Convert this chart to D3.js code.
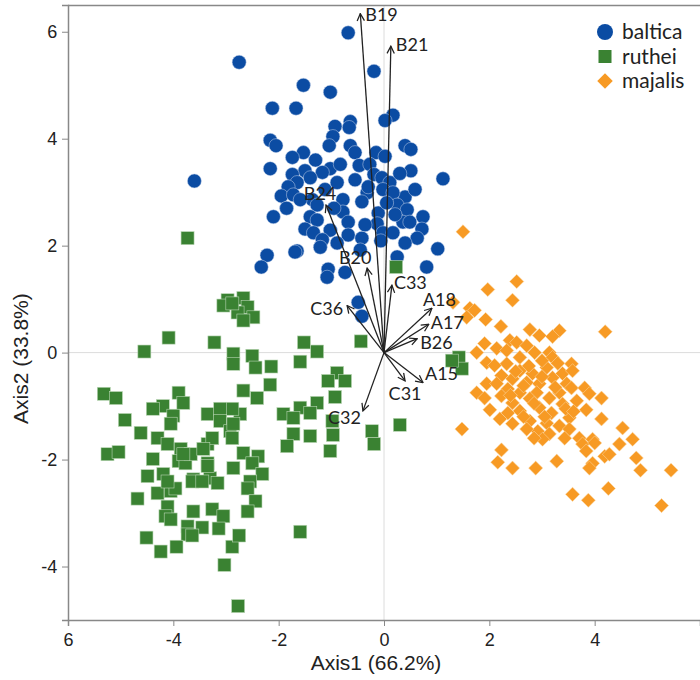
<!DOCTYPE html>
<html>
<head>
<meta charset="utf-8">
<script src="https://cdn.jsdelivr.net/npm/d3@7"></script>
<style>
  body { margin: 0; background: #fff; }
  svg text { fill: #222; }
</style>
</head>
<body>
<div id="chart"></div>
<script>
/* DATA */
// scores: [Axis1, Axis2]
var baltica = [
  [-0.68,5.98],[-2.75,5.43],[-0.19,5.26],[-1.53,5.00],[-1.02,4.87],[-2.12,4.57],[-1.67,4.57],
  [0.17,4.44],[0.02,4.34],[-0.64,4.32],[-0.93,4.23],[-0.66,4.21],[-0.97,4.04],[-2.16,3.97],
  [-2.05,3.87],[-1.04,3.87],[-0.64,3.87],[0.40,3.87],[0.51,3.80],[-1.53,3.74],[-0.55,3.74],
  [-0.15,3.74],[0.02,3.67],[-1.74,3.65],[-2.16,3.44],[-0.47,3.50],[-0.27,3.52],[0.51,3.40],
  [-1.50,3.40],[-1.02,3.44],[-1.17,3.37],[-1.74,3.33],[-0.19,3.33],[-0.04,3.27],[-3.60,3.21],
  [1.12,3.25],[-0.89,3.18],[-1.40,3.27],[-1.65,3.18],[-1.82,3.10],[0.11,3.18],[-0.02,3.05],
  [-1.95,2.93],[-1.72,2.95],[-0.78,2.86],[-0.32,2.99],[-0.42,2.82],[0.40,2.91],[0.17,2.99],
  [-1.36,2.86],[0.25,2.76],[0.44,2.67],[-0.11,2.61],[-0.78,2.63],[-1.27,2.76],[-2.10,2.54],
  [-1.40,2.54],[-1.27,2.48],[-0.68,2.44],[0.36,2.44],[0.49,2.44],[0.74,2.54],[-1.50,2.31],
  [-0.13,2.41],[-1.34,2.24],[-1.02,2.29],[-0.68,2.20],[-0.42,2.14],[-0.02,2.24],[0.17,2.24],
  [0.72,2.31],[-1.17,2.11],[-0.89,2.05],[0.63,2.14],[0.40,2.05],[-0.06,2.09],[-1.21,1.97],
  [-1.65,1.90],[-0.45,1.92],[1.02,1.94],[-2.22,1.82],[-2.33,1.60],[-1.06,1.56],[-0.74,1.50],
  [0.25,1.79],[0.81,1.60],[-1.08,1.41],[-1.69,1.88],[-0.49,0.94],[-0.42,0.68],
  [-0.55,3.23],[-0.36,2.39],[0.21,2.58],[-1.59,2.86],[-1.12,3.05],[-0.83,3.52],[0.59,3.05],
  [-1.30,3.60],[-0.30,3.10],[0.30,3.35],[-0.95,2.70],[-1.85,2.70],[0.05,2.80]
];

var ruthei = [
  [-2.97,0.98],[-2.67,1.02],[-2.59,0.85],[-2.78,0.75],[-2.48,0.66],[-2.67,0.60],[-3.05,0.88],
  [-2.88,0.92],[-4.09,0.28],[-3.22,0.19],[-4.55,0.02],[-3.73,2.14],[-2.86,-0.02],[-2.50,-0.06],
  [-2.86,-0.21],[-2.44,-0.28],[-2.14,-0.26],[-5.32,-0.77],[-5.09,-0.85],[-2.16,-0.60],[-2.67,-0.71],
  [-2.41,-0.85],[-3.90,-0.75],[-3.81,-0.94],[-4.20,-1.00],[-4.39,-1.05],[-4.92,-1.26],[-4.62,-1.50],
  [-2.73,-1.15],[-2.88,-1.05],[-3.35,-1.15],[-3.11,-1.05],[-3.11,-1.28],[-4.00,-1.18],[-4.05,-1.33],
  [-4.30,-1.60],[-4.11,-1.71],[-3.86,-1.80],[-3.35,-1.71],[-3.26,-1.60],[-2.92,-1.47],[-2.88,-1.60],
  [-5.25,-1.90],[-5.04,-1.86],[-2.67,-1.88],[-2.39,-1.94],[-4.39,-1.99],[-3.90,-2.03],[-3.35,-2.07],
  [-2.86,-2.16],[-4.49,-2.31],[-4.19,-2.27],[-2.50,-2.07],[-2.31,-2.27],[-2.54,-2.41],[-2.59,-2.54],
  [-2.44,-2.78],[-2.59,-2.97],[-3.62,-2.37],[-3.30,-2.35],[-3.16,-2.44],[-4.68,-2.73],[-4.30,-2.63],
  [-4.05,-2.59],[-3.96,-2.54],[-4.11,-2.88],[-4.15,-3.06],[-4.05,-3.12],[-3.62,-2.97],[-3.26,-2.93],
  [-3.05,-3.06],[-3.14,-3.29],[-3.45,-3.27],[-3.73,-3.25],[-3.73,-3.40],[-4.51,-3.46],[-4.24,-3.72],
  [-3.94,-3.63],[-2.88,-3.63],[-2.75,-3.42],[-3.03,-3.97],[-2.77,-4.74],[-1.59,-3.35],[-4.11,-2.41],
  [-3.77,-2.07],[-3.67,-1.90],[-3.43,-1.80],[-3.64,-2.41],[-3.45,-2.41],[-3.35,-2.12],[-3.64,-3.42],
  [-3.81,-1.90],[-1.52,0.19],[-1.27,0.02],[-1.59,-0.17],[-0.89,-0.38],[-1.06,-0.53],[-0.74,-0.53],
  [-0.93,-0.83],[-1.27,-0.94],[-1.59,-1.03],[-1.91,-1.15],[-1.72,-1.22],[-1.40,-1.13],[-0.98,-1.28],
  [-1.72,-1.52],[-1.40,-1.56],[-0.97,-1.54],[-1.84,-1.75],[-1.02,-1.84],[-0.23,-1.47],[-0.19,-1.71],
  [0.30,-1.35],[-0.44,0.21],[0.23,1.60],[-2.86,-1.33],[1.42,-0.09],[1.48,-0.30],[1.29,-0.15]
];

var majalis = [
  [1.50,2.26],[2.52,1.33],[1.97,1.18],[2.44,0.98],[1.63,0.83],[1.72,0.79],[1.57,0.66],[1.31,0.94],
  [1.93,0.62],[2.22,0.49],[2.77,0.43],[3.33,0.41],[3.20,0.30],[2.95,0.32],[4.20,0.39],[2.39,0.23],
  [2.52,0.19],[2.71,0.13],[1.91,0.17],[2.14,0.08],[1.76,0.00],[2.86,0.00],[3.14,0.00],[2.33,0.04],
  [3.20,-0.09],[2.58,-0.09],[1.95,-0.19],[2.33,-0.21],[3.56,-0.21],[2.10,-0.24],[3.09,-0.28],
  [2.58,-0.34],[2.82,-0.39],[3.39,-0.39],[3.58,-0.34],[2.23,-0.43],[2.44,-0.49],[3.20,-0.47],
  [2.71,-0.56],[2.95,-0.58],[1.95,-0.58],[3.47,-0.58],[2.14,-0.58],[2.35,-0.68],[2.58,-0.75],
  [2.90,-0.75],[3.33,-0.75],[3.56,-0.66],[1.76,-0.75],[3.81,-0.66],[2.23,-0.81],[3.14,-0.85],
  [2.77,-0.86],[2.44,-0.94],[1.91,-0.85],[4.13,-0.85],[3.90,-0.77],[3.66,-0.90],[3.39,-0.96],
  [2.95,-1.03],[2.58,-1.09],[2.01,-1.07],[2.35,-1.13],[3.18,-1.13],[3.84,-1.07],[3.52,-1.22],
  [2.20,-1.24],[2.77,-1.28],[3.09,-1.32],[4.13,-1.24],[3.33,-1.37],[2.44,-1.33],[2.92,-1.47],
  [3.52,-1.43],[1.48,-1.43],[2.71,-1.43],[3.14,-1.52],[4.53,-1.41],[3.71,-1.60],[3.01,-1.62],
  [3.43,-1.60],[3.96,-1.62],[4.72,-1.62],[3.77,-1.71],[4.00,-1.69],[4.47,-1.71],[2.23,-1.82],
  [3.84,-1.84],[4.19,-1.94],[4.28,-1.90],[4.79,-1.97],[3.28,-2.03],[2.16,-2.05],[3.96,-2.07],
  [3.90,-2.16],[2.44,-2.16],[2.88,-2.16],[4.87,-2.20],[5.45,-2.20],[4.26,-2.54],[3.58,-2.65],
  [3.88,-2.76],[5.27,-2.86],
  [2.65,-0.62],[3.00,-0.45],[2.85,-0.95],[3.25,-0.65],[2.50,-0.35],[3.05,-1.20],[2.40,-0.80],
  [3.45,-1.05],[2.65,-1.20],[3.30,-0.20],[2.75,-0.25],[3.00,-0.15],[3.60,-1.10],[2.85,-1.60]
];

// variable loadings (arrow tips)
var varNames = ["B19","B21","B24","B20","C33","C36","A18","A17","B26","A15","C31","C32"];
var varAxis1 = [-0.45, 0.13, -1.10, -0.32, 0.15, -0.70, 0.91, 0.85, 0.63, 0.74, 0.40, -0.40];
var varAxis2 = [ 6.34, 5.73,  2.76,  1.58, 1.26,  0.88, 0.83, 0.53, 0.26, -0.56, -0.53, -1.09];

var groupNames = ["baltica", "ruthei", "majalis"];
var xTickValues = [-6, -4, -2, 0, 2, 4];
var xTickLabels = ["6", "-4", "-2", "0", "2", "4"];
var yTickValues = [-4, -2, 0, 2, 4, 6];
var yTickLabels = ["-4", "-2", "0", "2", "4", "6"];

/* LAYOUT */
var W = 700, H = 680;
var margin = { left: 68, right: 700, top: 5, bottom: 620 };
var colors = { baltica: "#0b4ca3", ruthei: "#3a8232", majalis: "#f79a24" };

// label placement next to each arrow tip: [dx, dy, anchor]
var labelPos = {
  B19: [5, 7, "start"], B21: [5, 5, "start"], B24: [-6, -5, "middle"], B20: [-12, -4, "middle"],
  C33: [2, 4, "start"], C36: [-4, 9, "end"], A18: [-9, -2, "start"], A17: [2, 5, "start"],
  B26: [3, 10, "start"], A15: [2, -3, "start"], C31: [0, 19, "middle"], C32: [-2, 13, "end"]
};

var x = d3.scaleLinear().domain([-6, 6]).range([margin.left, margin.right]);
var y = d3.scaleLinear().domain([-5, 6.5]).range([margin.bottom, margin.top]);

var svg = d3.select("#chart").append("svg")
  .attr("width", W)
  .attr("height", H);

svg.append("defs").append("marker")
  .attr("id", "arrow")
  .attr("viewBox", "0 0 10 10")
  .attr("refX", 9).attr("refY", 5)
  .attr("markerWidth", 7).attr("markerHeight", 7)
  .attr("orient", "auto")
  .append("path")
  .attr("d", "M1,1 L9,5 L1,9")
  .attr("fill", "none")
  .attr("stroke", "#222")
  .attr("stroke-width", 1.4);

// zero lines
svg.append("line")
  .attr("x1", x(0)).attr("x2", x(0)).attr("y1", margin.top).attr("y2", margin.bottom)
  .attr("stroke", "#dcdcdc").attr("stroke-width", 1);
svg.append("line")
  .attr("x1", margin.left).attr("x2", margin.right).attr("y1", y(0)).attr("y2", y(0))
  .attr("stroke", "#dcdcdc").attr("stroke-width", 1);

// top frame line
svg.append("line")
  .attr("x1", margin.left).attr("x2", margin.right)
  .attr("y1", margin.top + 0.5).attr("y2", margin.top + 0.5)
  .attr("stroke", "#888").attr("stroke-width", 1.5);

/* POINTS */
var diamond = d3.symbol().type(d3.symbolSquare).size(100);

svg.append("g").selectAll("path")
  .data(majalis)
  .enter().append("path")
  .attr("d", diamond)
  .attr("transform", function(d) { return "translate(" + x(d[0]) + "," + y(d[1]) + ") rotate(45)"; })
  .attr("fill", colors.majalis)
  .attr("stroke", "#fcd9a8").attr("stroke-width", 0.5);

svg.append("g").selectAll("circle")
  .data(baltica)
  .enter().append("circle")
  .attr("cx", function(d) { return x(d[0]); })
  .attr("cy", function(d) { return y(d[1]); })
  .attr("r", 7)
  .attr("fill", colors.baltica)
  .attr("stroke", "#c5d3ea").attr("stroke-width", 0.5);

svg.append("g").selectAll("rect")
  .data(ruthei)
  .enter().append("rect")
  .attr("x", function(d) { return x(d[0]) - 6.5; })
  .attr("y", function(d) { return y(d[1]) - 6.5; })
  .attr("width", 13).attr("height", 13)
  .attr("fill", colors.ruthei)
  .attr("stroke", "#b9d6b4").attr("stroke-width", 0.6);

/* ARROWS */
var arrows = varNames.map(function(n, i) { return { name: n, a1: varAxis1[i], a2: varAxis2[i] }; });

svg.append("g").selectAll("line")
  .data(arrows)
  .enter().append("line")
  .attr("x1", x(0)).attr("y1", y(0))
  .attr("x2", function(d) { return x(d.a1); })
  .attr("y2", function(d) { return y(d.a2); })
  .attr("stroke", "#222")
  .attr("stroke-width", 1.3)
  .attr("marker-end", "url(#arrow)");

svg.append("g").selectAll("text")
  .data(arrows)
  .enter().append("text")
  .attr("x", function(d) { return x(d.a1) + labelPos[d.name][0]; })
  .attr("y", function(d) { return y(d.a2) + labelPos[d.name][1]; })
  .attr("text-anchor", function(d) { return labelPos[d.name][2]; })
  .style("font-family", "Lato, 'Open Sans', sans-serif")
  .style("font-size", "18px")
  .text(function(d) { return d.name; });

/* AXES */
var xAxis = svg.append("g")
  .attr("transform", "translate(0," + margin.bottom + ")")
  .call(d3.axisBottom(x).tickValues(xTickValues)
    .tickFormat(function(d, i) { return xTickLabels[i]; })
    .tickSizeOuter(0).tickSize(6));
var yAxis = svg.append("g")
  .attr("transform", "translate(" + margin.left + ",0)")
  .call(d3.axisLeft(y).tickValues(yTickValues)
    .tickFormat(function(d, i) { return yTickLabels[i]; })
    .tickSizeOuter(0).tickSize(6));

[xAxis, yAxis].forEach(function(g) {
  g.select(".domain").attr("stroke", "#888").attr("stroke-width", 1.5);
  g.selectAll(".tick line").attr("stroke", "#888");
  g.selectAll(".tick text")
    .style("font-family", "'Liberation Sans', Arial, sans-serif")
    .style("font-size", "18px")
    .attr("fill", "#222");
});
xAxis.selectAll(".tick text").attr("dy", "0.95em");
yAxis.selectAll(".tick text").attr("dx", "-0.1em");

svg.append("text")
  .attr("x", (margin.left + margin.right) / 2 - 8)
  .attr("y", 670)
  .attr("text-anchor", "middle")
  .style("font-family", "'Liberation Sans', Arial, sans-serif")
  .style("font-size", "21px")
  .text("Axis1 (66.2%)");

svg.append("text")
  .attr("transform", "translate(28," + (y(0) + 6) + ") rotate(-90)")
  .attr("text-anchor", "middle")
  .style("font-family", "'Liberation Sans', Arial, sans-serif")
  .style("font-size", "21px")
  .text("Axis2 (33.8%)");

/* LEGEND */
var legend = svg.append("g").attr("transform", "translate(605,32)");
groupNames.forEach(function(name, i) {
  var g = legend.append("g").attr("transform", "translate(0," + (i * 24.5) + ")");
  if (name === "baltica") {
    g.append("circle").attr("r", 8).attr("fill", colors.baltica);
  } else if (name === "ruthei") {
    g.append("rect").attr("x", -6.5).attr("y", -6.5).attr("width", 13).attr("height", 13).attr("fill", colors.ruthei);
  } else {
    g.append("path").attr("d", d3.symbol().type(d3.symbolSquare).size(120)).attr("transform", "rotate(45)").attr("fill", colors.majalis);
  }
  g.append("text")
    .attr("x", 17).attr("y", 7)
    .style("font-family", "Lato, 'Open Sans', sans-serif")
    .style("font-size", "21px")
    .text(name);
});
</script>
</body>
</html>
